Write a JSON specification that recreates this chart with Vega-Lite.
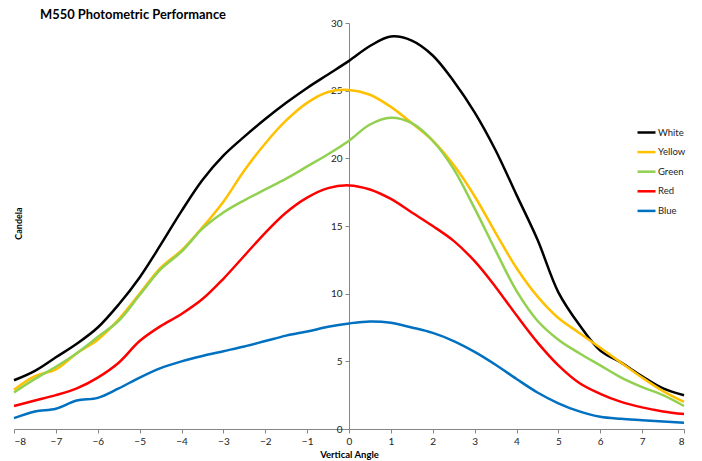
{
  "$schema": "https://vega.github.io/schema/vega-lite/v6.json",
  "width": 670,
  "height": 406,
  "autosize": {"type": "none"},
  "padding": {"left": 14, "top": 23, "right": 18, "bottom": 32},
  "background": "white",
  "config": {
    "view": {"stroke": null},
    "font": "Lato"
  },
  "title": {
    "text": "M550 Photometric Performance",
    "anchor": "start",
    "frame": "group",
    "dx": 26,
    "dy": 18,
    "offset": 4,
    "baseline": "alphabetic",
    "font": "Lato",
    "fontSize": 12.9,
    "fontWeight": "bold",
    "color": "#000000"
  },
  "datasets": {
    "pts": [
      {"angle": -8, "series": "White", "candela": 3.6},
      {"angle": -7.5, "series": "White", "candela": 4.3},
      {"angle": -7, "series": "White", "candela": 5.3},
      {"angle": -6.5, "series": "White", "candela": 6.3},
      {"angle": -6, "series": "White", "candela": 7.5},
      {"angle": -5.5, "series": "White", "candela": 9.2},
      {"angle": -5, "series": "White", "candela": 11.2},
      {"angle": -4.5, "series": "White", "candela": 13.6},
      {"angle": -4, "series": "White", "candela": 16.1},
      {"angle": -3.5, "series": "White", "candela": 18.4},
      {"angle": -3, "series": "White", "candela": 20.2},
      {"angle": -2.5, "series": "White", "candela": 21.6},
      {"angle": -2, "series": "White", "candela": 22.9},
      {"angle": -1.5, "series": "White", "candela": 24.1},
      {"angle": -1, "series": "White", "candela": 25.2},
      {"angle": -0.5, "series": "White", "candela": 26.2},
      {"angle": 0, "series": "White", "candela": 27.2},
      {"angle": 0.5, "series": "White", "candela": 28.3},
      {"angle": 1, "series": "White", "candela": 29.0},
      {"angle": 1.5, "series": "White", "candela": 28.7},
      {"angle": 2, "series": "White", "candela": 27.6},
      {"angle": 2.5, "series": "White", "candela": 25.7},
      {"angle": 3, "series": "White", "candela": 23.4},
      {"angle": 3.5, "series": "White", "candela": 20.6},
      {"angle": 4, "series": "White", "candela": 17.3},
      {"angle": 4.5, "series": "White", "candela": 14.0},
      {"angle": 5, "series": "White", "candela": 10.1},
      {"angle": 5.5, "series": "White", "candela": 7.7},
      {"angle": 6, "series": "White", "candela": 5.8},
      {"angle": 6.5, "series": "White", "candela": 4.9},
      {"angle": 7, "series": "White", "candela": 3.9},
      {"angle": 7.5, "series": "White", "candela": 3.0},
      {"angle": 8, "series": "White", "candela": 2.5},

      {"angle": -8, "series": "Yellow", "candela": 2.9},
      {"angle": -7.5, "series": "Yellow", "candela": 3.9},
      {"angle": -7, "series": "Yellow", "candela": 4.4},
      {"angle": -6.5, "series": "Yellow", "candela": 5.6},
      {"angle": -6, "series": "Yellow", "candela": 6.6},
      {"angle": -5.5, "series": "Yellow", "candela": 8.1},
      {"angle": -5, "series": "Yellow", "candela": 10.0},
      {"angle": -4.5, "series": "Yellow", "candela": 11.9},
      {"angle": -4, "series": "Yellow", "candela": 13.2},
      {"angle": -3.5, "series": "Yellow", "candela": 14.9},
      {"angle": -3, "series": "Yellow", "candela": 16.8},
      {"angle": -2.5, "series": "Yellow", "candela": 19.1},
      {"angle": -2, "series": "Yellow", "candela": 21.1},
      {"angle": -1.5, "series": "Yellow", "candela": 22.8},
      {"angle": -1, "series": "Yellow", "candela": 24.1},
      {"angle": -0.5, "series": "Yellow", "candela": 24.9},
      {"angle": 0, "series": "Yellow", "candela": 25.05},
      {"angle": 0.5, "series": "Yellow", "candela": 24.7},
      {"angle": 1, "series": "Yellow", "candela": 23.8},
      {"angle": 1.5, "series": "Yellow", "candela": 22.6},
      {"angle": 2, "series": "Yellow", "candela": 21.3},
      {"angle": 2.5, "series": "Yellow", "candela": 19.5},
      {"angle": 3, "series": "Yellow", "candela": 17.2},
      {"angle": 3.5, "series": "Yellow", "candela": 14.5},
      {"angle": 4, "series": "Yellow", "candela": 11.9},
      {"angle": 4.5, "series": "Yellow", "candela": 9.8},
      {"angle": 5, "series": "Yellow", "candela": 8.2},
      {"angle": 5.5, "series": "Yellow", "candela": 7.1},
      {"angle": 6, "series": "Yellow", "candela": 6.0},
      {"angle": 6.5, "series": "Yellow", "candela": 4.9},
      {"angle": 7, "series": "Yellow", "candela": 3.8},
      {"angle": 7.5, "series": "Yellow", "candela": 2.8},
      {"angle": 8, "series": "Yellow", "candela": 2.0},

      {"angle": -8, "series": "Green", "candela": 2.7},
      {"angle": -7.5, "series": "Green", "candela": 3.7},
      {"angle": -7, "series": "Green", "candela": 4.6},
      {"angle": -6.5, "series": "Green", "candela": 5.6},
      {"angle": -6, "series": "Green", "candela": 6.8},
      {"angle": -5.5, "series": "Green", "candela": 8.0},
      {"angle": -5, "series": "Green", "candela": 9.9},
      {"angle": -4.5, "series": "Green", "candela": 11.8},
      {"angle": -4, "series": "Green", "candela": 13.1},
      {"angle": -3.5, "series": "Green", "candela": 14.8},
      {"angle": -3, "series": "Green", "candela": 16.0},
      {"angle": -2.5, "series": "Green", "candela": 16.9},
      {"angle": -2, "series": "Green", "candela": 17.7},
      {"angle": -1.5, "series": "Green", "candela": 18.5},
      {"angle": -1, "series": "Green", "candela": 19.4},
      {"angle": -0.5, "series": "Green", "candela": 20.3},
      {"angle": 0, "series": "Green", "candela": 21.3},
      {"angle": 0.5, "series": "Green", "candela": 22.5},
      {"angle": 1, "series": "Green", "candela": 23.0},
      {"angle": 1.5, "series": "Green", "candela": 22.6},
      {"angle": 2, "series": "Green", "candela": 21.3},
      {"angle": 2.5, "series": "Green", "candela": 19.2},
      {"angle": 3, "series": "Green", "candela": 16.3},
      {"angle": 3.5, "series": "Green", "candela": 13.2},
      {"angle": 4, "series": "Green", "candela": 10.2},
      {"angle": 4.5, "series": "Green", "candela": 8.0},
      {"angle": 5, "series": "Green", "candela": 6.6},
      {"angle": 5.5, "series": "Green", "candela": 5.6},
      {"angle": 6, "series": "Green", "candela": 4.7},
      {"angle": 6.5, "series": "Green", "candela": 3.8},
      {"angle": 7, "series": "Green", "candela": 3.1},
      {"angle": 7.5, "series": "Green", "candela": 2.5},
      {"angle": 8, "series": "Green", "candela": 1.7},

      {"angle": -8, "series": "Red", "candela": 1.7},
      {"angle": -7.5, "series": "Red", "candela": 2.1},
      {"angle": -7, "series": "Red", "candela": 2.5},
      {"angle": -6.5, "series": "Red", "candela": 3.0},
      {"angle": -6, "series": "Red", "candela": 3.8},
      {"angle": -5.5, "series": "Red", "candela": 4.9},
      {"angle": -5, "series": "Red", "candela": 6.5},
      {"angle": -4.5, "series": "Red", "candela": 7.6},
      {"angle": -4, "series": "Red", "candela": 8.5},
      {"angle": -3.5, "series": "Red", "candela": 9.6},
      {"angle": -3, "series": "Red", "candela": 11.1},
      {"angle": -2.5, "series": "Red", "candela": 12.8},
      {"angle": -2, "series": "Red", "candela": 14.5},
      {"angle": -1.5, "series": "Red", "candela": 16.0},
      {"angle": -1, "series": "Red", "candela": 17.1},
      {"angle": -0.5, "series": "Red", "candela": 17.8},
      {"angle": 0, "series": "Red", "candela": 18.0},
      {"angle": 0.5, "series": "Red", "candela": 17.7},
      {"angle": 1, "series": "Red", "candela": 17.0},
      {"angle": 1.5, "series": "Red", "candela": 16.0},
      {"angle": 2, "series": "Red", "candela": 15.0},
      {"angle": 2.5, "series": "Red", "candela": 13.9},
      {"angle": 3, "series": "Red", "candela": 12.4},
      {"angle": 3.5, "series": "Red", "candela": 10.5},
      {"angle": 4, "series": "Red", "candela": 8.4},
      {"angle": 4.5, "series": "Red", "candela": 6.4},
      {"angle": 5, "series": "Red", "candela": 4.7},
      {"angle": 5.5, "series": "Red", "candela": 3.4},
      {"angle": 6, "series": "Red", "candela": 2.6},
      {"angle": 6.5, "series": "Red", "candela": 2.0},
      {"angle": 7, "series": "Red", "candela": 1.6},
      {"angle": 7.5, "series": "Red", "candela": 1.3},
      {"angle": 8, "series": "Red", "candela": 1.1},

      {"angle": -8, "series": "Blue", "candela": 0.8},
      {"angle": -7.5, "series": "Blue", "candela": 1.3},
      {"angle": -7, "series": "Blue", "candela": 1.5},
      {"angle": -6.5, "series": "Blue", "candela": 2.1},
      {"angle": -6, "series": "Blue", "candela": 2.3},
      {"angle": -5.5, "series": "Blue", "candela": 3.0},
      {"angle": -5, "series": "Blue", "candela": 3.8},
      {"angle": -4.5, "series": "Blue", "candela": 4.5},
      {"angle": -4, "series": "Blue", "candela": 5.0},
      {"angle": -3.5, "series": "Blue", "candela": 5.4},
      {"angle": -3, "series": "Blue", "candela": 5.75},
      {"angle": -2.5, "series": "Blue", "candela": 6.1},
      {"angle": -2, "series": "Blue", "candela": 6.5},
      {"angle": -1.5, "series": "Blue", "candela": 6.9},
      {"angle": -1, "series": "Blue", "candela": 7.2},
      {"angle": -0.5, "series": "Blue", "candela": 7.55},
      {"angle": 0, "series": "Blue", "candela": 7.8},
      {"angle": 0.5, "series": "Blue", "candela": 7.95},
      {"angle": 1, "series": "Blue", "candela": 7.85},
      {"angle": 1.5, "series": "Blue", "candela": 7.5},
      {"angle": 2, "series": "Blue", "candela": 7.1},
      {"angle": 2.5, "series": "Blue", "candela": 6.5},
      {"angle": 3, "series": "Blue", "candela": 5.7},
      {"angle": 3.5, "series": "Blue", "candela": 4.75},
      {"angle": 4, "series": "Blue", "candela": 3.7},
      {"angle": 4.5, "series": "Blue", "candela": 2.7},
      {"angle": 5, "series": "Blue", "candela": 1.9},
      {"angle": 5.5, "series": "Blue", "candela": 1.3},
      {"angle": 6, "series": "Blue", "candela": 0.9},
      {"angle": 6.5, "series": "Blue", "candela": 0.75},
      {"angle": 7, "series": "Blue", "candela": 0.65},
      {"angle": 7.5, "series": "Blue", "candela": 0.55},
      {"angle": 8, "series": "Blue", "candela": 0.47}
    ]
  },
  "data": {"name": "pts"},
  "mark": {"type": "line", "interpolate": "catmull-rom", "strokeWidth": 2.5},
  "encoding": {
    "x": {
      "field": "angle",
      "type": "quantitative",
      "scale": {"domain": [-8, 8], "nice": false, "zero": false},
      "axis": {
        "title": "Vertical Angle",
        "values": [-8, -7, -6, -5, -4, -3, -2, -1, 0, 1, 2, 3, 4, 5, 6, 7, 8],
        "grid": false,
        "domainColor": "#868686",
        "tickColor": "#868686",
        "tickSize": 4,
        "labelPadding": 3,
        "labelFont": "Lato",
        "labelFontSize": 10,
        "labelColor": "#222222",
        "titleFont": "Lato",
        "titleFontSize": 9.5,
        "titleFontWeight": "bold",
        "titleColor": "#000000",
        "titlePadding": 3
      }
    },
    "y": {
      "field": "candela",
      "type": "quantitative",
      "scale": {"domain": [0, 30], "nice": false},
      "axis": {
        "title": "Candela",
        "values": [0, 5, 10, 15, 20, 25, 30],
        "offset": -335,
        "grid": false,
        "domainColor": "#868686",
        "tickColor": "#868686",
        "tickSize": 4,
        "labelPadding": 3,
        "labelFont": "Lato",
        "labelFontSize": 10,
        "labelColor": "#222222",
        "titleFont": "Lato",
        "titleFontSize": 9,
        "titleFontWeight": "bold",
        "titleColor": "#000000",
        "titleX": -331,
        "titleY": 200,
        "titleAngle": -90,
        "titleBaseline": "middle",
        "titleAlign": "center"
      }
    },
    "color": {
      "field": "series",
      "type": "nominal",
      "scale": {
        "domain": ["White", "Yellow", "Green", "Red", "Blue"],
        "range": ["#000000", "#FFC000", "#92D050", "#FF0000", "#0070C0"]
      },
      "legend": {
        "title": null,
        "orient": "none",
        "legendX": 622,
        "legendY": 99,
        "symbolType": "stroke",
        "symbolStrokeWidth": 2.5,
        "symbolSize": 324,
        "rowPadding": 3.6,
        "labelOffset": 1,
        "labelFont": "Lato",
        "labelFontSize": 9.5,
        "labelColor": "#222222"
      }
    }
  }
}
